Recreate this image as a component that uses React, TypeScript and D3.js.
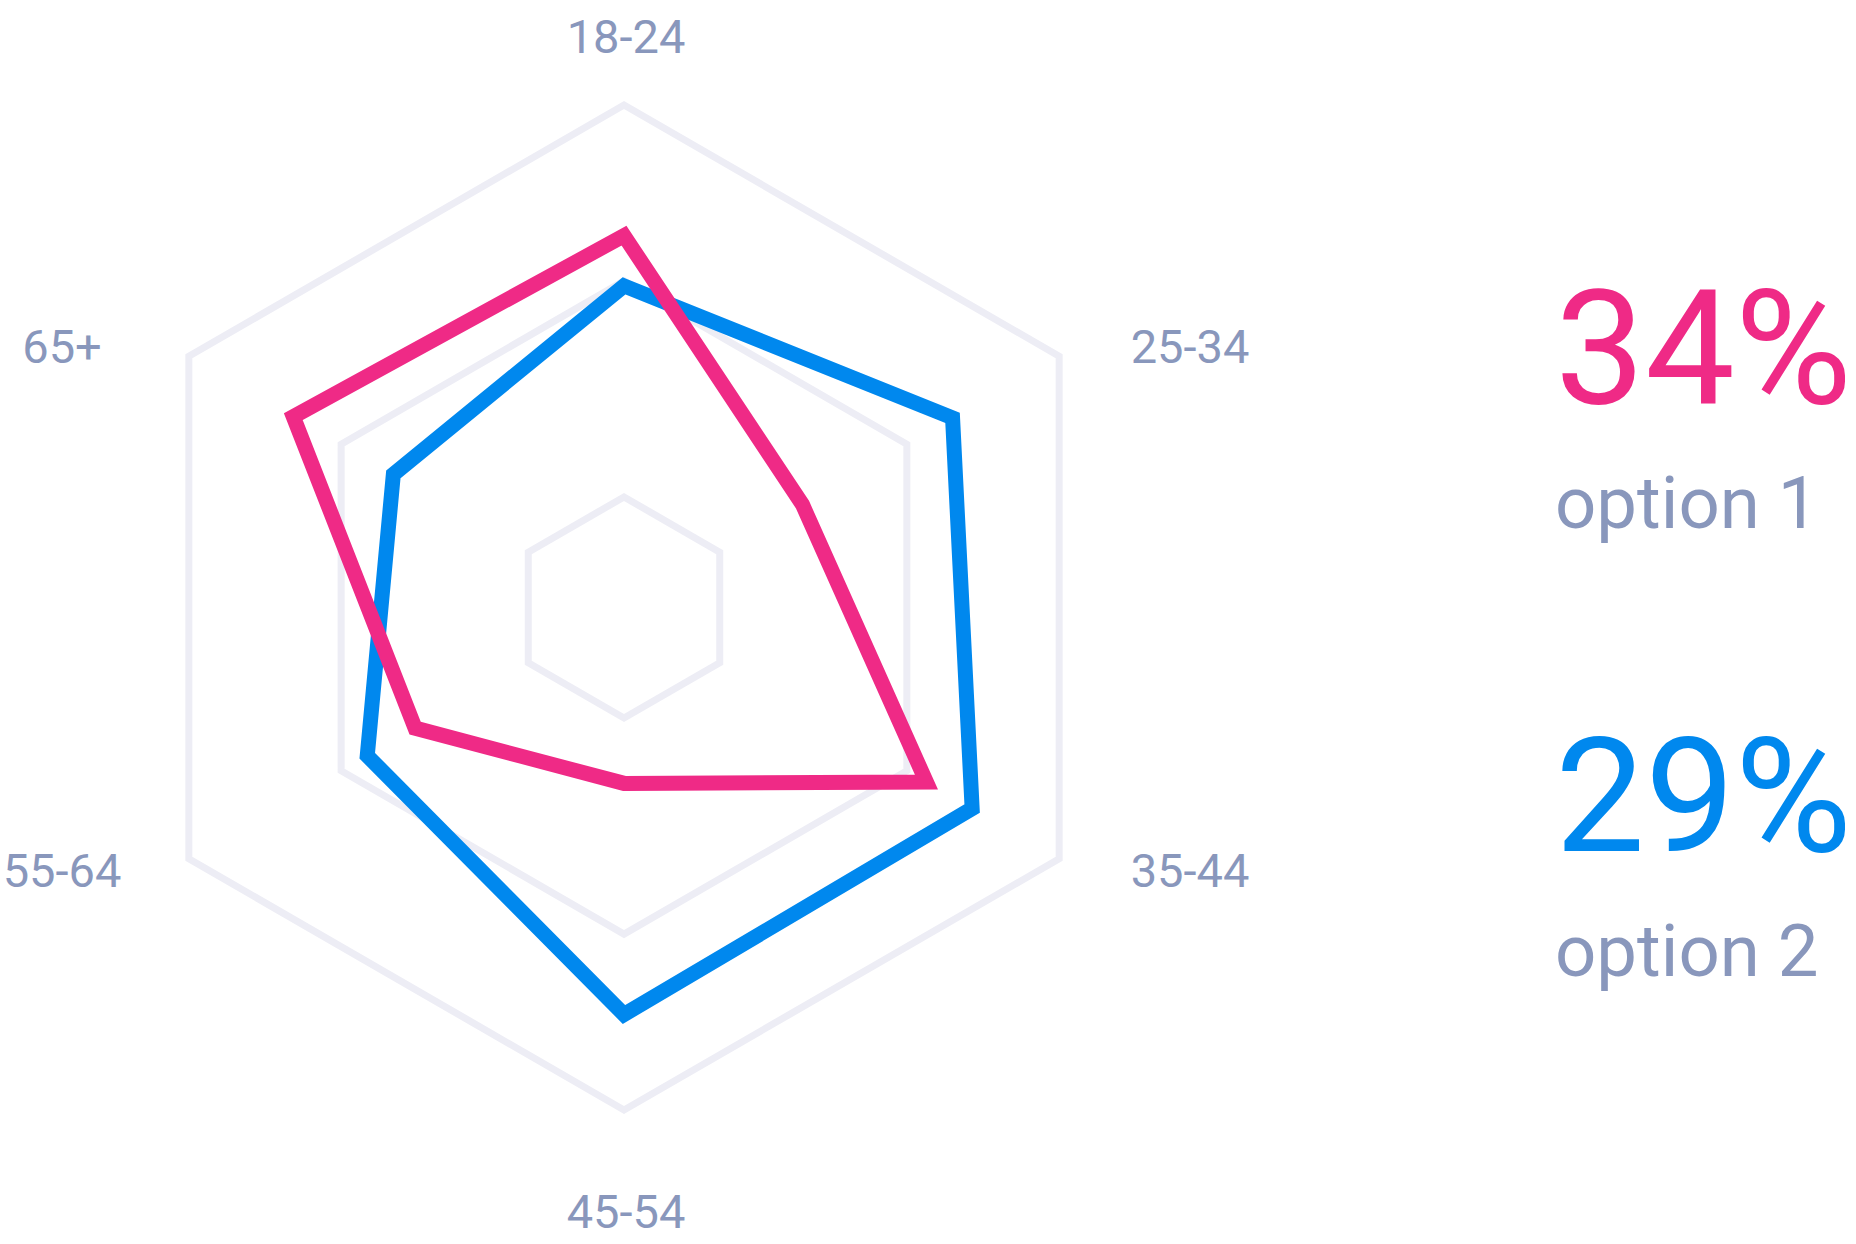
import React, { useEffect, useRef } from "react";
import * as d3 from "d3";

// age groups around the radar, clockwise from the top
const categories = ["18-24", "25-34", "35-44", "45-54", "55-64", "65+"];
const option1Values = [74, 41, 69.5, 35, 48, 76];
const option2Values = [64, 75.5, 80, 81, 59, 53];
const gridLevels = [22, 65, 100];
const seriesNames = ["option 1", "option 2"];
const seriesTotals = ["34%", "29%"];

const PINK = "#ef2a86";
const BLUE = "#0088ee";
const GREY = "#8997bc";
const GRID = "#ededf5";

function App() {
  const ref = useRef<SVGSVGElement>(null);

  useEffect(() => {
    drawChart();
  }, []);

  const drawChart = () => {
    const svg = d3.select(ref.current);
    svg.selectAll("*").remove();

    const cx = 624,
      cy = 607.5;

    const r = d3.scaleLinear().domain([0, 100]).range([0, 502.5]);
    const angle = d3
      .scaleLinear()
      .domain([0, categories.length])
      .range([0, 2 * Math.PI]);

    const radar = d3
      .lineRadial<number>()
      .angle((d, i) => angle(i))
      .radius((d) => r(d))
      .curve(d3.curveLinearClosed);

    const g = svg.append("g").attr("transform", `translate(${cx},${cy})`);

    // hexagon grid
    g.append("g")
      .selectAll("path")
      .data(gridLevels)
      .enter()
      .append("path")
      .attr("d", (lvl) => radar(categories.map(() => lvl)))
      .attr("fill", "none")
      .attr("stroke", GRID)
      .attr("stroke-width", 7)
      .attr("stroke-linejoin", "miter");

    // series, blue under pink
    const series = [
      { values: option2Values, color: BLUE },
      { values: option1Values, color: PINK },
    ];
    g.append("g")
      .selectAll("path")
      .data(series)
      .enter()
      .append("path")
      .attr("d", (s) => radar(s.values))
      .attr("fill", "none")
      .attr("stroke", (s) => s.color)
      .attr("stroke-width", 15)
      .attr("stroke-linejoin", "miter")
      .attr("stroke-miterlimit", 10);

    // axis labels
    const labelX = (i: number) => {
      const s = Math.sin(angle(i));
      if (Math.abs(s) < 0.1) return 2;
      return s > 0 ? 566 : -562;
    };
    const labelY = (i: number) => {
      const c = Math.cos(angle(i));
      if (c > 0.9) return -554.5;
      if (c < -0.9) return 620.5;
      return c > 0 ? -244.5 : 279;
    };
    g.append("g")
      .selectAll("text")
      .data(categories)
      .enter()
      .append("text")
      .attr("x", (d, i) => labelX(i))
      .attr("y", (d, i) => labelY(i))
      .attr("text-anchor", "middle")
      .attr("font-family", "Roboto")
      .attr("font-size", 47)
      .attr("fill", GREY)
      .text((d) => d);

    // totals on the right
    const colors = [PINK, BLUE];
    const stats = svg
      .append("g")
      .selectAll("g")
      .data(seriesNames)
      .enter()
      .append("g")
      .attr("transform", (d, i) => `translate(1555,${403 + i * 448})`);

    stats
      .append("text")
      .attr("font-family", "Roboto")
      .attr("font-size", 160)
      .attr("fill", (d, i) => colors[i])
      .text((d, i) => seriesTotals[i]);

    stats
      .append("text")
      .attr("y", 125)
      .attr("font-family", "Roboto")
      .attr("font-size", 72.5)
      .attr("fill", GREY)
      .text((d) => d);
  };

  return (
    <div className="App">
      <svg
        ref={ref}
        width={1856}
        height={1244}
        style={{ position: "absolute", left: 0, top: 0, background: "#fff" }}
      />
    </div>
  );
}

export default App;
